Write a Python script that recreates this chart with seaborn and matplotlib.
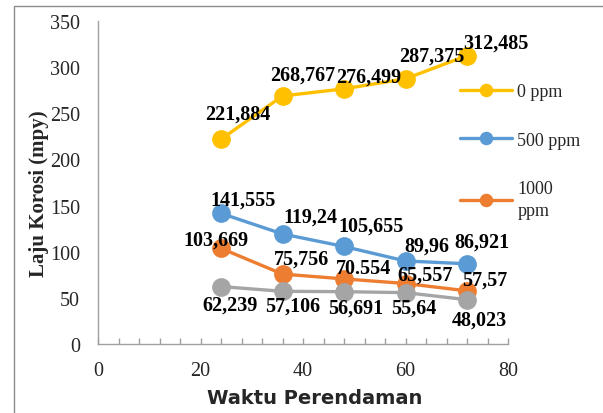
import matplotlib
matplotlib.use("Agg")
import matplotlib.pyplot as plt
from matplotlib.patches import Rectangle
import seaborn as sns
import pandas as pd

# ---- data ----
hours = [24, 36, 48, 60, 72]
series_names = ["0 ppm", "500 ppm", "1000 ppm", "1500 ppm"]
rate_0 = [221.884, 268.767, 276.499, 287.375, 312.485]
rate_500 = [141.555, 119.24, 105.655, 89.96, 86.921]
rate_1000 = [103.669, 75.756, 70.554, 65.557, 57.57]
rate_1500 = [62.239, 57.106, 56.691, 55.64, 48.023]
labels_0 = ["221,884", "268,767", "276,499", "287,375", "312,485"]
labels_500 = ["141,555", "119,24", "105,655", "89,96", "86,921"]
labels_1000 = ["103,669", "75,756", "70.554", "65,557", "57,57"]
labels_1500 = ["62,239", "57,106", "56,691", "55,64", "48,023"]
legend_labels = ["0 ppm", "500 ppm", "1000\nppm"]
x_ticks = [0, 20, 40, 60, 80]
y_ticks = [0, 50, 100, 150, 200, 250, 300, 350]

all_rates = [rate_0, rate_500, rate_1000, rate_1500]
all_labels = [labels_0, labels_500, labels_1000, labels_1500]

df = pd.DataFrame({
    "Waktu": hours * 4,
    "Laju": sum(all_rates, []),
    "Seri": [n for n in series_names for _ in hours],
})

colors = ["#FFC000", "#5B9BD5", "#ED7D31", "#A5A5A5"]

# label offsets in pixels (style only)
offsets = [
    [(17, 26), (20, 21), (25, 12), (26, 23), (29, 13)],
    [(22, 14), (28, 17), (27, 21), (21, 15), (15, 22)],
    [(-5, 9), (19, 15), (19, 11), (20, 9), (18, 11)],
    [(9, -18), (10, -14), (12, -16), (8, -15), (12, -20)],
]

sns.set_style("white")
plt.rcParams["font.family"] = ["Liberation Serif", "DejaVu Serif"]

fig = plt.figure(figsize=(6.03, 4.14), dpi=100)
ax = fig.add_axes([98 / 603, 1 - 345 / 414, 410 / 603, 323 / 414])

sns.lineplot(data=df, x="Waktu", y="Laju", hue="Seri", hue_order=series_names,
             palette=colors, marker="o", markersize=13.5, markeredgewidth=0,
             linewidth=2.4, legend=False, ax=ax, zorder=3)

for rates, labs, offs in zip(all_rates, all_labels, offsets):
    for xv, yv, lab, off in zip(hours, rates, labs, offs):
        ax.annotate(lab, (xv, yv), xytext=off, textcoords="offset pixels",
                    ha="center", va="center", fontsize=14.5, fontweight="bold",
                    color="black", zorder=5)

ax.set_xlim(0, 80)
ax.set_ylim(0, 350)
ax.set_xticks(x_ticks)
ax.set_yticks(y_ticks)
ax.set_xticks(range(0, 81, 4), minor=True)
ax.tick_params(axis="x", which="both", direction="in", length=4, width=1,
               color="#A0A0A0", bottom=True, pad=12, labelsize=14.5)
ax.tick_params(axis="y", length=0, pad=13, labelsize=14.5)
for s in ["top", "right"]:
    ax.spines[s].set_visible(False)
for s in ["left", "bottom"]:
    ax.spines[s].set_color("#A0A0A0")
    ax.spines[s].set_linewidth(1)
ax.grid(False)

ax.set_xlabel("Waktu Perendaman", fontsize=14, fontweight="bold",
              family=["DejaVu Sans"])
ax.set_ylabel("Laju Korosi (mpy)", fontsize=15, fontweight="bold")
ax.xaxis.set_label_coords(0.529, -0.135)
ax.yaxis.set_label_coords(-0.12, 0.467)

handles = ax.lines[:3]
leg = fig.legend(handles, legend_labels, loc="upper left",
                 bbox_to_anchor=(460 / 603, 1 - 84 / 414), frameon=False,
                 fontsize=13, handlelength=2.9, handletextpad=0.28,
                 labelspacing=1.75, borderpad=0, borderaxespad=0,
                 markerscale=0.72)
for t in leg.get_texts():
    t.set_linespacing(1.35)

fig.patches.append(Rectangle((14 / 603, -0.05), 1.1, 1 - 7 / 414 + 0.05,
                             transform=fig.transFigure, fill=False,
                             edgecolor="#8C8C8C", linewidth=1))

fig.savefig("out.png", dpi=100)
